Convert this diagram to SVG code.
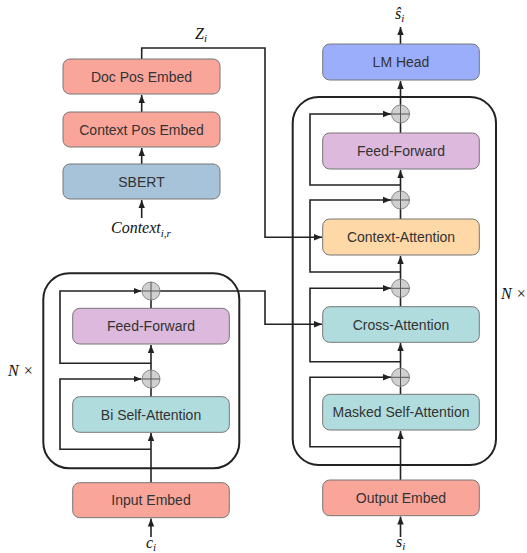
<svg xmlns="http://www.w3.org/2000/svg" width="527" height="553" viewBox="0 0 527 553">
<defs>
<style>
.box{stroke:#777;stroke-width:1}
.lbl{font-family:"Liberation Sans",Arial,sans-serif;font-size:14px;fill:#333;text-anchor:middle}
.math{font-family:"Liberation Serif","Times New Roman",serif;font-style:italic;font-size:16px;fill:#111}
.sub{font-size:11px}
.c{fill:none;stroke:#222;stroke-width:1.6}
.big{fill:none;stroke:#222;stroke-width:2}
.plus circle{fill:#d0d0d0;stroke:#888;stroke-width:1}
.plus path{stroke:#555;stroke-width:1}
</style>
<marker id="a" viewBox="0 0 10 10" refX="10" refY="5" markerWidth="8" markerHeight="8" orient="auto" markerUnits="userSpaceOnUse">
<path d="M0,1 L10,5 L0,9 z" fill="#222"/>
</marker>
</defs>
<rect width="527" height="553" fill="#fff"/>

<g id="encoder-block"><rect class="big" x="43.3" y="273.3" width="196" height="195" rx="26"/></g>
<g id="decoder-block"><rect class="big" x="292.7" y="97" width="203.3" height="368" rx="26"/></g>

<g id="connectors">
<path class="c" d="M141.7,218 V200" marker-end="url(#a)"/>
<path class="c" d="M141.7,164 V148" marker-end="url(#a)"/>
<path class="c" d="M141.7,112 V95" marker-end="url(#a)"/>
<path class="c" d="M141.7,59 V48 H265 V237.3 H322" marker-end="url(#a)"/>
<path class="c" d="M151,537 V518.5" marker-end="url(#a)"/>
<path class="c" d="M151,482.7 V433" marker-end="url(#a)"/>
<path class="c" d="M151,449.3 H60 V379 H141.5" marker-end="url(#a)"/>
<path class="c" d="M151,396.7 V388"/>
<path class="c" d="M151,370 V345" marker-end="url(#a)"/>
<path class="c" d="M151,363.3 H60 V291 H141.5" marker-end="url(#a)"/>
<path class="c" d="M151,308.3 V300"/>
<path class="c" d="M160,291 H265 V324.3 H322" marker-end="url(#a)"/>
<path class="c" d="M400.5,537 V516.5" marker-end="url(#a)"/>
<path class="c" d="M400.5,480 V431" marker-end="url(#a)"/>
<path class="c" d="M400.5,446.7 H310 V377.3 H391" marker-end="url(#a)"/>
<path class="c" d="M400.5,394.3 V386"/>
<path class="c" d="M400.5,368.5 V343" marker-end="url(#a)"/>
<path class="c" d="M400.5,361.7 H310 V288.3 H391" marker-end="url(#a)"/>
<path class="c" d="M400.5,306.7 V297"/>
<path class="c" d="M400.5,279.5 V256" marker-end="url(#a)"/>
<path class="c" d="M400.5,272 H310 V200 H391" marker-end="url(#a)"/>
<path class="c" d="M400.5,219 V209"/>
<path class="c" d="M400.5,191 V170" marker-end="url(#a)"/>
<path class="c" d="M400.5,185 H310 V114 H391" marker-end="url(#a)"/>
<path class="c" d="M400.5,133 V123"/>
<path class="c" d="M400.5,105 V81" marker-end="url(#a)"/>
<path class="c" d="M400.5,44 V27" marker-end="url(#a)"/>
</g>

<g id="plus-enc-1" class="plus"><circle cx="151" cy="291" r="9"/><path d="M142,291 H160 M151,282 V300"/></g>
<g id="plus-enc-2" class="plus"><circle cx="151" cy="379" r="9"/><path d="M142,379 H160 M151,370 V388"/></g>
<g id="plus-dec-1" class="plus"><circle cx="400.5" cy="114" r="9"/><path d="M391.5,114 H409.5 M400.5,105 V123"/></g>
<g id="plus-dec-2" class="plus"><circle cx="400.5" cy="200" r="9"/><path d="M391.5,200 H409.5 M400.5,191 V209"/></g>
<g id="plus-dec-3" class="plus"><circle cx="400.5" cy="288.3" r="9"/><path d="M391.5,288.3 H409.5 M400.5,279.3 V297.3"/></g>
<g id="plus-dec-4" class="plus"><circle cx="400.5" cy="377.3" r="9"/><path d="M391.5,377.3 H409.5 M400.5,368.3 V386.3"/></g>

<g id="doc-pos-embed"><rect class="box" x="63" y="59" width="157" height="35" rx="7" fill="#f9a59a"/><text class="lbl" x="141.5" y="81.5">Doc Pos Embed</text></g>
<g id="context-pos-embed"><rect class="box" x="63" y="112" width="157" height="35" rx="7" fill="#f9a59a"/><text class="lbl" x="141.5" y="134.5">Context Pos Embed</text></g>
<g id="sbert"><rect class="box" x="63" y="164" width="157" height="35" rx="7" fill="#a7c3da"/><text class="lbl" x="141.5" y="186.5">SBERT</text></g>

<g id="feed-forward-enc"><rect class="box" x="72.7" y="308.3" width="156.6" height="35.7" rx="7" fill="#dcb9dd"/><text class="lbl" x="151" y="331">Feed-Forward</text></g>
<g id="bi-self-attention"><rect class="box" x="72.7" y="396.7" width="156.6" height="35.6" rx="7" fill="#b1dcdd"/><text class="lbl" x="151" y="419.5">Bi Self-Attention</text></g>
<g id="input-embed"><rect class="box" x="72.7" y="482.7" width="156.6" height="35" rx="7" fill="#f9a59a"/><text class="lbl" x="151" y="505.2">Input Embed</text></g>

<g id="lm-head"><rect class="box" x="322.7" y="44" width="156.6" height="36" rx="7" fill="#9aaefc"/><text class="lbl" x="401" y="67">LM Head</text></g>
<g id="feed-forward-dec"><rect class="box" x="322.7" y="133" width="156.6" height="36" rx="7" fill="#dcb9dd"/><text class="lbl" x="401" y="156">Feed-Forward</text></g>
<g id="context-attention"><rect class="box" x="322.7" y="219" width="156.6" height="36" rx="7" fill="#fed8a6"/><text class="lbl" x="401" y="242">Context-Attention</text></g>
<g id="cross-attention"><rect class="box" x="322.7" y="306.7" width="156.6" height="35.6" rx="7" fill="#b1dcdd"/><text class="lbl" x="401" y="329.5">Cross-Attention</text></g>
<g id="masked-self-attention"><rect class="box" x="322.7" y="394.3" width="156.6" height="35.7" rx="7" fill="#b1dcdd"/><text class="lbl" x="401" y="417.2">Masked Self-Attention</text></g>
<g id="output-embed"><rect class="box" x="322.7" y="480" width="156.6" height="35.7" rx="7" fill="#f9a59a"/><text class="lbl" x="401" y="502.8">Output Embed</text></g>

<g id="labels">
<text class="math" x="195" y="39">Z<tspan class="sub" dy="3">i</tspan></text>
<text class="math" x="395" y="19">ŝ<tspan class="sub" dy="3">i</tspan></text>
<text class="math" x="111" y="233">Context<tspan class="sub" dy="4">i,r</tspan></text>
<text class="math" x="8" y="376">N ×</text>
<text class="math" x="501" y="299">N ×</text>
<text class="math" x="146" y="548">c<tspan class="sub" dy="3">i</tspan></text>
<text class="math" x="396" y="547">s<tspan class="sub" dy="3">i</tspan></text>
</g>
</svg>
